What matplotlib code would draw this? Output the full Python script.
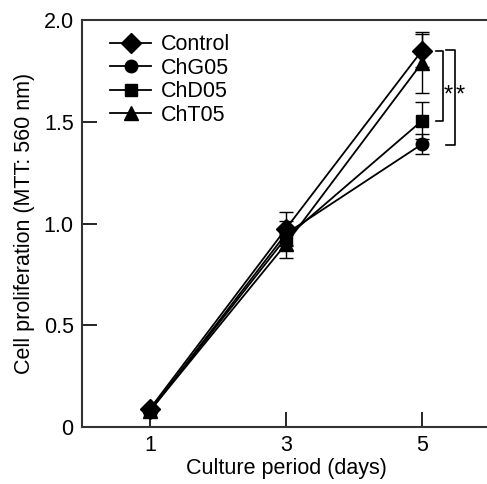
import matplotlib
matplotlib.use("Agg")
import matplotlib.pyplot as plt

plt.rcParams['font.family'] = ['Liberation Sans', 'DejaVu Sans']

days = [1, 3, 5]
groups = ["Control", "ChG05", "ChD05", "ChT05"]
markers = ["D", "o", "s", "^"]
msizes = [10.5, 9, 9, 10]

control = [0.09, 0.975, 1.85]
chg05 = [0.08, 0.95, 1.39]
chd05 = [0.08, 0.93, 1.505]
cht05 = [0.08, 0.90, 1.79]

control_err = [0.01, 0.08, 0.08]
chg05_err = [0.01, 0.06, 0.05]
chd05_err = [0.01, 0.06, 0.09]
cht05_err = [0.01, 0.07, 0.15]

values = [control, chg05, chd05, cht05]
errors = [control_err, chg05_err, chd05_err, cht05_err]

fig = plt.figure(figsize=(4.87, 4.84), dpi=100)
ax = fig.add_axes([82/487, 57/484, 408/487, 407/484])

handles = []
for name, m, ms, v, e in zip(groups, markers, msizes, values, errors):
    c = ax.errorbar(days, v, yerr=e, color="black", marker=m, markersize=ms,
                    linewidth=1.3, elinewidth=1.0, capsize=5, capthick=1.0,
                    label=name)
    handles.append(c.lines[0])

# significance brackets at day 5
ax.plot([5.21, 5.31, 5.31, 5.21], [control[2], control[2], chd05[2], chd05[2]],
        color="black", linewidth=1.2)
ax.plot([5.36, 5.48, 5.48, 5.36], [control[2] + 0.005, control[2] + 0.005, chg05[2] - 0.005, chg05[2] - 0.005],
        color="black", linewidth=1.2)
ax.text(5.39, 1.63, "*", ha="center", va="center", fontsize=17)
ax.text(5.56, 1.63, "*", ha="center", va="center", fontsize=17)

ax.set_xlim(0, 6)
ax.set_ylim(0, 2.0)
ax.set_xticks(days)
ax.set_xticklabels(["1", "3", "5"])
ax.set_yticks([0, 0.5, 1.0, 1.5, 2.0])
ax.set_yticklabels(["0", "0.5", "1.0", "1.5", "2.0"])
ax.tick_params(direction="in", length=11, width=1.2, labelsize=15.5, pad=6)
for s in ax.spines.values():
    s.set_linewidth(1.5)
    s.set_color("#333333")

ax.set_xlabel("Culture period (days)", fontsize=15.5, labelpad=1)
ax.set_ylabel("Cell proliferation (MTT: 560 nm)", fontsize=15.5, labelpad=6)

ax.legend(handles, groups, loc="upper left", frameon=False, fontsize=15.5,
          handlelength=1.9, handletextpad=0.45, labelspacing=0.12,
          borderpad=0, borderaxespad=0, bbox_to_anchor=(0.069, 0.965))

fig.savefig("out.png", dpi=100)
